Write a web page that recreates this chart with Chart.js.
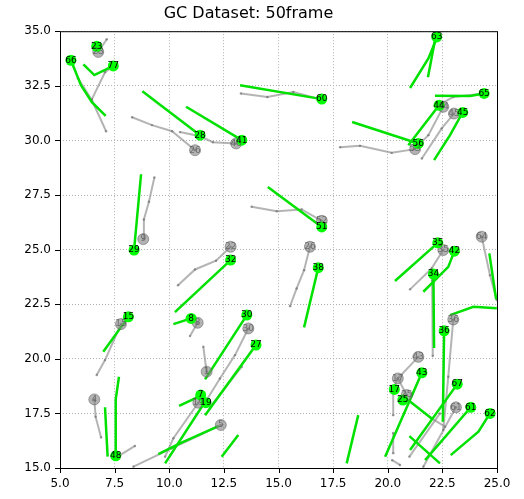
<!DOCTYPE html>
<html lang="en">
<head>
  <title>GC Dataset</title>
  <style>
    body { margin: 0; background: #fff; }
    #wrap { width: 524px; height: 499px; }
  </style>
</head>
<body>
  <div id="wrap"><canvas id="myChart"></canvas></div>
  <script src="https://cdn.jsdelivr.net/npm/chart.js"></script>
  <script>
    // predicted end positions (green) : [id, x, y]
    const greenDots = [
      [23, 6.68, 34.31], [66, 5.50, 33.67], [77, 7.44, 33.41], [28, 11.41, 30.24],
      [41, 13.32, 30.01], [60, 16.98, 31.89], [63, 22.24, 34.74], [65, 24.41, 32.15],
      [44, 22.35, 31.61], [56, 21.40, 29.86], [45, 23.43, 31.28], [29, 8.39, 24.98],
      [51, 16.98, 26.04], [32, 12.81, 24.52], [38, 16.82, 24.17], [35, 22.29, 25.31],
      [42, 23.05, 24.93], [34, 22.09, 23.88], [36, 22.58, 21.28], [43, 21.56, 19.36],
      [17, 20.30, 18.60], [25, 20.69, 18.11], [67, 23.18, 18.84], [61, 23.80, 17.78],
      [62, 24.68, 17.50], [15, 8.13, 21.92], [8, 11.00, 21.85], [48, 7.55, 15.56],
      [30, 13.55, 22.00], [27, 13.97, 20.63], [7, 11.44, 18.34], [19, 11.68, 17.99]
    ];

    // ground truth positions (gray) : [id, x, y]
    const grayDots = [
      [23, 6.75, 34.05], [26, 11.18, 29.55], [40, 13.06, 29.86], [53, 21.25, 29.60],
      [44, 22.54, 31.54], [45, 23.03, 31.23], [9, 8.81, 25.48], [52, 16.98, 26.32],
      [22, 12.81, 25.13], [26, 16.44, 25.13], [35, 22.54, 24.98], [64, 24.30, 25.59],
      [36, 23.00, 21.80], [43, 21.40, 20.09], [17, 20.46, 19.10], [25, 20.87, 18.34],
      [61, 23.12, 17.78], [15, 7.79, 21.59], [8, 11.30, 21.65], [4, 6.57, 18.14],
      [30, 13.62, 21.39], [1, 11.71, 19.41], [19, 11.33, 17.99], [5, 12.36, 16.97]
    ];

    const greenTracks = [
      [[5.50, 33.67], [5.96, 32.53], [6.46, 31.75], [7.09, 31.12]],
      [[7.44, 33.41], [6.57, 32.99], [6.07, 33.48]],
      [[11.41, 30.24], [8.77, 32.25]],
      [[13.32, 30.01], [10.77, 31.54]],
      [[16.98, 31.89], [13.24, 32.53]],
      [[22.24, 34.68], [21.86, 33.75], [21.02, 32.40]],
      [[22.16, 34.59], [21.84, 32.89]],
      [[24.41, 32.15], [23.77, 32.03], [22.16, 32.04]],
      [[22.35, 31.61], [20.94, 29.78]],
      [[21.40, 29.86], [18.37, 30.84]],
      [[23.43, 31.28], [22.85, 30.24], [22.12, 29.10]],
      [[8.39, 24.98], [8.71, 28.45]],
      [[16.98, 26.04], [14.51, 27.87]],
      [[12.81, 24.52], [10.26, 22.14]],
      [[16.82, 24.17], [16.17, 21.44]],
      [[22.29, 25.31], [20.33, 23.56]],
      [[23.05, 24.93], [22.77, 24.21], [21.63, 23.07]],
      [[22.09, 23.88], [22.12, 20.49]],
      [[24.65, 24.83], [24.96, 22.72]],
      [[22.58, 21.28], [22.52, 17.12]],
      [[22.85, 22.00], [23.92, 22.38], [24.99, 22.31]],
      [[21.56, 19.36], [19.88, 15.52]],
      [[20.93, 18.11], [22.01, 17.27]],
      [[20.99, 16.46], [22.39, 15.21]],
      [[23.18, 18.84], [21.02, 15.82]],
      [[23.80, 17.78], [21.71, 15.36]],
      [[24.68, 17.50], [24.15, 16.66], [22.88, 15.59]],
      [[8.13, 21.92], [6.98, 20.32]],
      [[11.00, 21.85], [10.19, 21.59]],
      [[7.55, 15.56], [7.55, 18.14], [7.70, 19.18]],
      [[7.18, 15.52], [7.06, 17.78]],
      [[13.55, 22.00], [11.64, 19.06]],
      [[13.97, 20.63], [11.64, 17.42]],
      [[11.44, 18.34], [11.18, 18.19], [10.45, 17.84]],
      [[11.68, 17.99], [11.49, 17.80], [9.81, 15.21]],
      [[12.25, 16.92], [10.49, 16.13], [9.50, 15.64]],
      [[13.16, 16.51], [12.40, 15.52]],
      [[18.65, 17.42], [18.12, 15.21]]
    ];

    const grayTracks = [
      [[6.75, 34.05], [7.14, 34.63]],
      [[5.82, 32.85], [6.46, 31.84], [7.11, 30.42]],
      [[7.44, 33.41], [7.06, 33.12], [6.46, 31.89]],
      [[8.30, 31.06], [9.21, 30.70], [10.13, 30.42], [11.18, 29.55]],
      [[10.49, 30.38], [11.41, 30.19], [12.00, 29.92], [13.06, 29.86]],
      [[13.28, 32.15], [14.49, 31.99], [15.68, 32.22], [16.90, 31.89]],
      [[24.41, 32.15], [23.00, 31.99], [22.47, 31.69]],
      [[22.54, 31.54], [21.86, 30.24], [21.25, 29.63]],
      [[21.25, 29.60], [20.18, 29.43], [18.73, 29.75], [17.82, 29.69]],
      [[23.03, 31.23], [22.47, 30.55], [21.56, 29.17]],
      [[8.81, 25.48], [8.84, 26.38], [9.07, 27.19], [9.32, 28.30]],
      [[16.98, 26.32], [16.06, 26.84], [14.92, 26.76], [13.77, 26.96]],
      [[12.81, 25.13], [12.14, 24.49], [11.18, 24.09], [10.40, 23.37]],
      [[16.44, 25.13], [16.17, 24.06], [15.83, 23.22], [15.53, 22.41]],
      [[22.54, 24.98], [22.01, 24.14], [21.02, 23.18]],
      [[22.03, 23.60], [22.06, 20.13]],
      [[24.30, 25.59], [24.68, 23.83], [24.99, 22.69]],
      [[23.00, 21.80], [22.77, 19.18], [22.54, 16.74]],
      [[21.40, 20.09], [20.46, 19.10]],
      [[20.46, 19.10], [20.25, 18.60], [20.25, 17.42]],
      [[20.25, 16.60], [20.25, 15.68]],
      [[20.20, 15.36], [20.56, 15.14]],
      [[20.46, 19.10], [20.87, 18.34]],
      [[22.01, 17.27], [22.62, 16.89]],
      [[22.39, 17.50], [20.99, 15.52]],
      [[23.12, 17.78], [21.63, 15.06]],
      [[7.79, 21.59], [7.06, 19.94], [6.68, 19.26]],
      [[11.30, 21.65], [10.95, 21.04]],
      [[6.57, 18.14], [6.63, 17.35], [6.88, 16.40]],
      [[7.75, 15.59], [8.43, 16.01]],
      [[13.62, 21.39], [13.01, 20.17], [12.32, 19.10], [11.71, 18.11]],
      [[11.71, 19.41], [11.56, 20.55]],
      [[13.32, 19.64], [11.87, 17.80]],
      [[11.33, 17.99], [10.19, 16.36], [9.81, 15.52]],
      [[12.36, 16.97], [10.11, 15.90], [8.36, 15.06]]
    ];

    const xTicks = [5, 7.5, 10, 12.5, 15, 17.5, 20, 22.5, 25];
    const yTicks = [15, 17.5, 20, 22.5, 25, 27.5, 30, 32.5, 35];

    const toPts = arr => arr.map(p => ({x: p[0], y: p[1]}));

    let datasets = [];
    datasets.push({
      label: 'gt', data: grayDots.map(d => ({x: d[1], y: d[2], id: d[0]})),
      showLine: false, pointRadius: 5.5, pointBackgroundColor: 'rgba(128,128,128,0.6)',
      pointBorderColor: 'rgba(90,90,90,0.5)', pointBorderWidth: 1, order: 1
    });
    datasets.push({
      label: 'pred', data: greenDots.map(d => ({x: d[1], y: d[2], id: d[0]})),
      showLine: false, pointRadius: 5.5, pointBackgroundColor: 'rgb(0,255,0)',
      pointBorderWidth: 0, order: 0
    });
    greenTracks.forEach(t => datasets.push({
      data: toPts(t), showLine: true, borderColor: 'rgb(0,225,0)', borderWidth: 2.5,
      pointRadius: 0, order: 2
    }));
    grayTracks.forEach(t => datasets.push({
      data: toPts(t), showLine: true, borderColor: 'rgba(140,140,140,0.65)', borderWidth: 2,
      pointRadius: 1.2, pointBackgroundColor: 'rgba(110,110,110,0.7)', pointBorderWidth: 0, order: 3
    }));

    // box, tick marks and id labels
    const extras = {
      id: 'extras',
      afterDatasetsDraw(chart) {
        const ctx = chart.ctx;
        const a = chart.chartArea;
        const xs = chart.scales.x, ys = chart.scales.y;
        ctx.save();
        ctx.textAlign = 'center';
        ctx.textBaseline = 'middle';
        ctx.font = '9px "DejaVu Sans"';
        ctx.fillStyle = 'rgba(80,80,80,0.7)';
        grayDots.forEach(d => ctx.fillText(String(d[0]), xs.getPixelForValue(d[1]), ys.getPixelForValue(d[2])));
        ctx.fillStyle = '#000';
        greenDots.forEach(d => ctx.fillText(String(d[0]), xs.getPixelForValue(d[1]), ys.getPixelForValue(d[2])));
        ctx.restore();
      },
      afterDraw(chart) {
        const ctx = chart.ctx;
        const a = chart.chartArea;
        const xs = chart.scales.x, ys = chart.scales.y;
        ctx.save();
        ctx.strokeStyle = '#000';
        ctx.lineWidth = 1;
        ctx.strokeRect(a.left + 0.5, a.top + 0.5, a.right - a.left, a.bottom - a.top);
        ctx.beginPath();
        xTicks.forEach(v => {
          const p = Math.round(xs.getPixelForValue(v)) + 0.5;
          ctx.moveTo(p, a.bottom); ctx.lineTo(p, a.bottom + 5);
        });
        yTicks.forEach(v => {
          const p = Math.round(ys.getPixelForValue(v)) + 0.5;
          ctx.moveTo(a.left, p); ctx.lineTo(a.left - 5, p);
        });
        ctx.stroke();
        ctx.restore();
      }
    };

    const ctx = document.getElementById('myChart').getContext('2d');
    const myChart = new Chart(ctx, {
      type: 'scatter',
      data: { datasets: datasets },
      plugins: [extras],
      options: {
        responsive: true,
        maintainAspectRatio: false,
        animation: false,
        layout: { padding: { right: 27, left: 0, top: 0, bottom: 0 } },
        plugins: {
          legend: { display: false },
          tooltip: { enabled: false },
          title: {
            display: true,
            text: 'GC Dataset: 50frame',
            color: '#000',
            font: { family: 'DejaVu Sans', size: 16, weight: 'normal' },
            padding: { top: 4, bottom: 8 }
          }
        },
        scales: {
          x: {
            min: 5, max: 25,
            afterFit: s => { s.height = 31; },
            afterBuildTicks: s => { s.ticks = xTicks.map(v => ({value: v})); },
            ticks: {
              color: '#000', padding: 9, maxRotation: 0,
              font: { family: 'DejaVu Sans', size: 12 },
              callback: v => Number(v).toFixed(1)
            },
            grid: { color: '#b0b0b0', lineWidth: 1, drawTicks: false },
            border: { display: false, dash: [1, 2] }
          },
          y: {
            min: 15, max: 35,
            afterFit: s => { s.width = 60; },
            afterBuildTicks: s => { s.ticks = yTicks.map(v => ({value: v})); },
            ticks: {
              color: '#000', padding: 9,
              font: { family: 'DejaVu Sans', size: 12 },
              callback: v => Number(v).toFixed(1)
            },
            grid: { color: '#b0b0b0', lineWidth: 1, drawTicks: false },
            border: { display: false, dash: [1, 2] }
          }
        }
      }
    });
  </script>
</body>
</html>
